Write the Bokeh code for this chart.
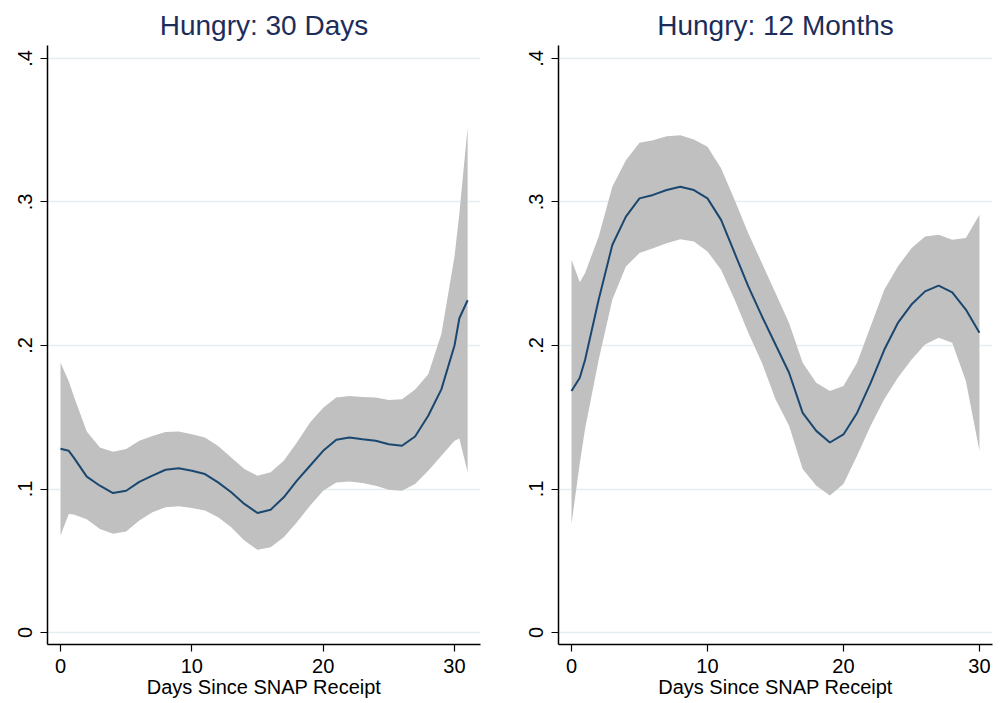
from bokeh.plotting import figure
from bokeh.layouts import row
from bokeh.models import FixedTicker, Range1d
from bokeh.embed import file_html
from bokeh.resources import INLINE

# ---- data: Hungry, 30 days ----
days_30 = [0, 0.63, 1, 2, 3, 4, 5, 6, 7, 8, 9, 10, 11, 12, 13, 14, 15, 16, 17, 18, 19, 20,
           21, 22, 23, 24, 25, 26, 27, 28, 29, 30, 30.37, 31]
mean_30 = [0.128, 0.1266, 0.122, 0.1086, 0.1023, 0.0972, 0.0988, 0.105, 0.1093, 0.1134, 0.1144,
           0.1127, 0.1104, 0.1046, 0.0977, 0.0896, 0.0833, 0.0856, 0.0942, 0.1058, 0.1162, 0.1266,
           0.1343, 0.1359, 0.1347, 0.1336, 0.1312, 0.1301, 0.1366, 0.151, 0.1694, 0.200, 0.219, 0.2315]
upper_30 = [0.188, 0.175, 0.165, 0.140, 0.129, 0.126, 0.1278, 0.1336, 0.137, 0.1398, 0.140,
            0.1382, 0.1359, 0.130, 0.122, 0.1139, 0.1093, 0.1116, 0.1197, 0.1324, 0.1463, 0.1567,
            0.1637, 0.1648, 0.1641, 0.1637, 0.162, 0.1625, 0.1694, 0.180, 0.208, 0.262, 0.292, 0.352]
lower_30 = [0.0676, 0.0826, 0.0822, 0.079, 0.0722, 0.0688, 0.0704, 0.078, 0.0838, 0.0873, 0.088,
            0.0868, 0.085, 0.0803, 0.0734, 0.0641, 0.0576, 0.0595, 0.0664, 0.0769, 0.0884, 0.0988,
            0.1046, 0.1053, 0.1042, 0.1023, 0.0995, 0.0988, 0.1035, 0.1127, 0.1231, 0.1336, 0.1352, 0.1116]

# ---- data: Hungry, 12 months ----
days_12 = [0, 0.61, 1, 2, 3, 4, 5, 6, 7, 8, 9, 10, 11, 12, 13, 14, 15, 16, 17, 18, 19, 20,
           21, 22, 23, 24, 25, 26, 27, 28, 29, 30]
mean_12 = [0.1683, 0.1775, 0.190, 0.232, 0.270, 0.2898, 0.3025, 0.3049, 0.3083, 0.3106, 0.3083,
           0.3025, 0.2875, 0.2643, 0.2412, 0.2204, 0.2007, 0.181, 0.153, 0.1405, 0.1324, 0.138,
           0.153, 0.174, 0.197, 0.2157, 0.2285, 0.2377, 0.2417, 0.237, 0.225, 0.2088]
upper_12 = [0.2597, 0.244, 0.2505, 0.276, 0.3106, 0.329, 0.3412, 0.343, 0.3458, 0.3465, 0.3435,
            0.3384, 0.3234, 0.3014, 0.2782, 0.2574, 0.2366, 0.2157, 0.188, 0.1741, 0.1683, 0.1718,
            0.188, 0.2134, 0.2389, 0.255, 0.2678, 0.276, 0.2771, 0.2736, 0.2748, 0.291]
lower_12 = [0.0757, 0.118, 0.142, 0.190, 0.2319, 0.255, 0.2644, 0.2678, 0.2713, 0.274, 0.2725,
            0.2655, 0.2528, 0.2319, 0.2088, 0.188, 0.1625, 0.144, 0.1139, 0.1023, 0.0954, 0.1035,
            0.1231, 0.144, 0.1625, 0.1775, 0.190, 0.2007, 0.2053, 0.2019, 0.1752, 0.1266]

x_ticks = [0, 10, 20, 30]
y_ticks = [0, 0.1, 0.2, 0.3, 0.4]
y_labels = {0: "0", 0.1: ".1", 0.2: ".2", 0.3: ".3", 0.4: ".4"}

FONT = "Liberation Sans"


def panel(title, x, lo, hi, mean, xr, bl, br, width):
    p = figure(width=width, height=700, output_backend="svg", toolbar_location=None,
               x_range=Range1d(*xr), y_range=Range1d(-0.00833, 0.409),
               min_border_left=bl, min_border_right=br, min_border_top=45,
               min_border_bottom=54, background_fill_color="white",
               border_fill_color="white")
    p.outline_line_color = None
    p.varea(x=x, y1=lo, y2=hi, fill_color="#c0c0c0", fill_alpha=1.0)
    p.line(x, mean, line_color="#1a476f", line_width=2)

    p.title.text = title
    p.title.text_font = FONT
    p.title.text_font_size = "28px"
    p.title.text_font_style = "normal"
    p.title.text_color = "#1c2d5a"
    p.title.align = "center"
    p.title.standoff = 9

    p.xgrid.grid_line_color = None
    p.ygrid.grid_line_color = "#e4eef1"
    p.ygrid.grid_line_width = 1.5
    p.ygrid.ticker = FixedTicker(ticks=y_ticks)

    for ax in (p.xaxis[0], p.yaxis[0]):
        ax.axis_line_color = "black"
        ax.axis_line_width = 1.5
        ax.major_tick_line_color = "black"
        ax.major_tick_line_width = 1.2
        ax.major_tick_out = 7
        ax.major_tick_in = 0
        ax.minor_tick_line_color = None
        ax.major_label_text_font = FONT
        ax.major_label_text_font_size = "20px"
        ax.major_label_text_color = "black"
        ax.major_label_standoff = 7

    p.xaxis[0].ticker = FixedTicker(ticks=x_ticks)
    p.xaxis[0].axis_label = "Days Since SNAP Receipt"
    p.xaxis[0].axis_label_text_font = FONT
    p.xaxis[0].axis_label_text_font_size = "20px"
    p.xaxis[0].axis_label_text_font_style = "normal"
    p.xaxis[0].axis_label_text_color = "black"
    p.xaxis[0].axis_label_standoff = 0

    p.yaxis[0].ticker = FixedTicker(ticks=y_ticks)
    p.yaxis[0].major_label_overrides = y_labels
    p.yaxis[0].major_label_orientation = "vertical"
    p.yaxis[0].major_label_standoff = 8
    return p


p1 = panel("Hungry: 30 Days", days_30, lower_30, upper_30, mean_30,
           (-0.99, 31.98), 47, 24, 504)
p2 = panel("Hungry: 12 Months", days_12, lower_12, upper_12, mean_12,
           (-0.956, 30.96), 54, 9, 497)

layout = row(p1, p2)
open("out.html", "w").write(file_html(layout, INLINE))
